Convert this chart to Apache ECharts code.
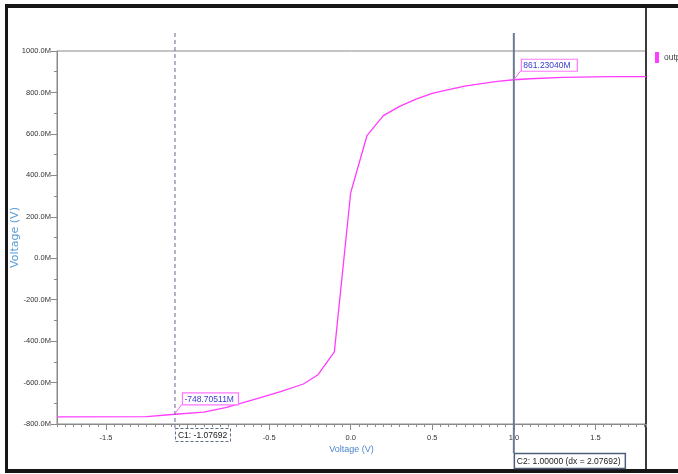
<!DOCTYPE html>
<html>
<head>
<meta charset="utf-8">
<script src="https://cdn.jsdelivr.net/npm/echarts@6/dist/echarts.min.js"></script>
<style>
  html, body { margin: 0; padding: 0; background: #fff; }
  #chart { width: 678px; height: 474px; }
</style>
</head>
<body>
<div id="chart"></div>
<script>
// DC sweep: input voltage (V) -> output (mV)
const sweepV = [-1.8, -1.25, -1.077, -0.9, -0.76, -0.6, -0.43, -0.29, -0.2, -0.1, 0.0, 0.1, 0.2, 0.3, 0.4, 0.5, 0.6, 0.7, 0.8, 0.9, 1.0, 1.1, 1.3, 1.6, 1.81]
const outputMV = [-766, -764, -753, -743, -720, -684, -644, -607, -562, -452, 316, 592, 688, 733, 768, 795, 814, 831, 843, 853, 861.2, 866, 873, 876, 876]

const xTicks = [-1.5, -1.0, -0.5, 0.0, 0.5, 1.0, 1.5]
const xTickLabels = ['-1.5', '-1.0', '-0.5', '0.0', '0.5', '1.0', '1.5']
const yTickLabels = ['-800.0M', '-600.0M', '-400.0M', '-200.0M', '0.0M', '200.0M', '400.0M', '600.0M', '800.0M', '1000.0M']

// cursors
const cursorNames = ['C1', 'C2']
const cursorX = [-1.07692, 1.0]
const cursorY = [-748.70511, 861.2304]

const FONT = "'Liberation Sans', sans-serif"
const AXIS = '#8a8a8a'
const CURVE = '#ff3cff'

const chart = echarts.init(document.getElementById('chart'))

chart.setOption({
  animation: false,
  backgroundColor: '#fff',
  grid: {
    left: 57,
    right: 32,
    top: 51,
    bottom: 50,
    containLabel: false,
    outerBoundsMode: 'none',
    show: true,
    borderColor: AXIS,
    borderWidth: 1,
  },
  legend: {
    left: 650,
    top: 47,
    icon: 'rect',
    itemWidth: 4,
    itemHeight: 11,
    itemGap: 5,
    textStyle: { color: '#444', fontSize: 8.5, fontFamily: FONT },
    data: ['output'],
  },
  xAxis: [
    {
      type: 'value',
      min: -1.8,
      max: 1.81,
      name: 'Voltage (V)',
      nameLocation: 'middle',
      nameGap: 21,
      nameMoveOverlap: false,
      nameTextStyle: { color: '#4a86c8', fontSize: 9, fontFamily: FONT },
      axisLine: { onZero: false, lineStyle: { color: AXIS } },
      axisTick: { customValues: xTicks, length: 6, lineStyle: { color: AXIS } },
      axisLabel: {
        customValues: xTicks,
        formatter: (v) => xTickLabels[xTicks.indexOf(Math.round(v * 10) / 10)],
        color: '#333',
        fontSize: 7.5,
        fontFamily: FONT,
        margin: 10,
      },
      splitLine: { show: false },
    },
    {
      type: 'value',
      min: -1.8,
      max: 1.81,
      interval: 0.05,
      position: 'bottom',
      axisLine: { show: false, onZero: false },
      axisTick: { length: 3, lineStyle: { color: AXIS } },
      axisLabel: { show: false },
      splitLine: { show: false },
    },
  ],
  yAxis: {
    type: 'value',
    min: -800,
    max: 1000,
    interval: 200,
    name: 'Voltage (V)',
    nameLocation: 'middle',
    nameGap: 36,
    nameMoveOverlap: false,
    nameTextStyle: { color: '#5b9bd5', fontSize: 11, fontFamily: "'DejaVu Sans', sans-serif" },
    axisLine: { show: true, onZero: false, lineStyle: { color: AXIS } },
    axisTick: { length: 6, lineStyle: { color: AXIS } },
    minorTick: { show: true, splitNumber: 2, length: 3, lineStyle: { color: AXIS } },
    axisLabel: {
      formatter: (v) => yTickLabels[Math.round((v + 800) / 200)],
      color: '#333',
      fontSize: 7.5,
      fontFamily: FONT,
      margin: 6,
    },
    splitLine: { show: false },
  },
  series: [
    {
      name: 'output',
      type: 'line',
      color: CURVE,
      showSymbol: false,
      data: sweepV.map((v, i) => [v, outputMV[i]]),
      lineStyle: { width: 1.3, color: CURVE },
    },
  ],
})

// overlay: frame, cursors and their readouts
const toPx = (x, y) => chart.convertToPixel({ gridIndex: 0 }, [x, y])
const gridTop = toPx(0, 1000)[1]
const gridBottom = toPx(0, -800)[1]

const graphic = [
  { type: 'rect', shape: { x: 5, y: 4, width: 673, height: 4 }, style: { fill: '#161616' } },
  { type: 'rect', shape: { x: 5, y: 4, width: 3, height: 469 }, style: { fill: '#161616' } },
  { type: 'rect', shape: { x: 5, y: 469, width: 673, height: 4 }, style: { fill: '#161616' } },
  { type: 'rect', shape: { x: 645, y: 8, width: 2, height: 461 }, style: { fill: '#3a3a3a' } },
]

cursorNames.forEach((name, i) => {
  const [cx, cy] = toPx(cursorX[i], cursorY[i])
  const solid = i === 1
  const boxTop = solid ? gridBottom + 29 : gridBottom + 4
  const boxW = solid ? 111 : 55
  const boxH = solid ? 15 : 13
  const text = solid
    ? name + ': ' + cursorX[i].toFixed(5) + ' (dx = ' + (cursorX[1] - cursorX[0]).toFixed(5) + ')'
    : name + ': ' + cursorX[i].toFixed(5)

  graphic.push({
    type: 'line',
    z: 50,
    shape: { x1: cx, y1: gridTop - 18, x2: cx, y2: boxTop },
    style: solid
      ? { stroke: '#6c7b93', lineWidth: 2 }
      : { stroke: '#5d6d84', lineWidth: 1, lineDash: [4, 3] },
  })
  graphic.push({
    type: 'rect',
    z: 51,
    shape: { x: cx + 0.5, y: boxTop + 0.5, width: boxW, height: boxH },
    style: solid
      ? { fill: '#fff', stroke: '#4f5f7a', lineWidth: 1.5 }
      : { fill: '#fff', stroke: '#5d6d84', lineWidth: 1, lineDash: [3, 2] },
  })
  graphic.push({
    type: 'text',
    z: 52,
    style: {
      text,
      x: cx + 3,
      y: boxTop + boxH / 2 + 1,
      verticalAlign: 'middle',
      fill: '#222',
      fontSize: 8.5,
      fontFamily: FONT,
    },
  })

  // value readout on the curve
  const lx = cx + 7
  const ly = cy - 21
  graphic.push({
    type: 'line',
    z: 53,
    shape: { x1: cx, y1: cy, x2: lx, y2: ly + 12 },
    style: { stroke: '#ff66ff', lineWidth: 1 },
  })
  graphic.push({
    type: 'rect',
    z: 54,
    shape: { x: lx + 0.5, y: ly + 0.5, width: 56, height: 12 },
    style: { fill: '#fff', stroke: '#ff77ff', lineWidth: 1.2 },
  })
  graphic.push({
    type: 'text',
    z: 55,
    style: {
      text: cursorY[i].toFixed(5) + 'M',
      x: lx + 2.5,
      y: ly + 7,
      verticalAlign: 'middle',
      fill: '#3b3bd0',
      fontSize: 8.5,
      fontFamily: FONT,
    },
  })
})

chart.setOption({ graphic })
</script>
</body>
</html>
